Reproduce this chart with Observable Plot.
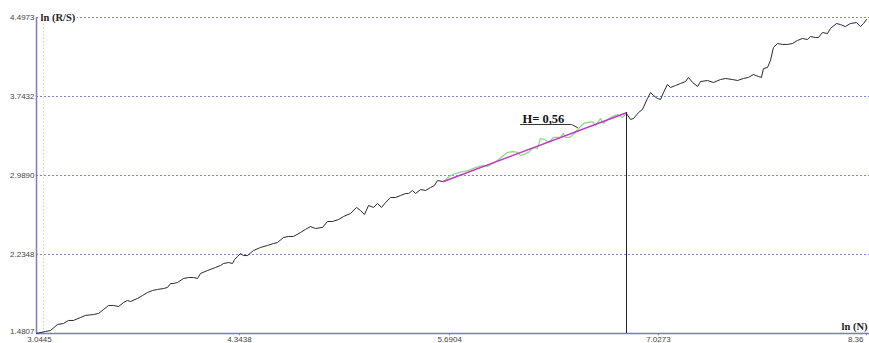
<!DOCTYPE html>
<html>
<head>
<meta charset="utf-8">
<script src="https://cdn.jsdelivr.net/npm/d3@7"></script>
<script src="https://cdn.jsdelivr.net/npm/@observablehq/plot@0.6"></script>
<style>
  html, body { margin: 0; padding: 0; background: #fff; overflow: hidden; }
  #chart svg { display: block; overflow: visible; }
</style>
</head>
<body>
<div id="chart"></div>
<script>
// Rescaled range analysis: ln(R/S) against ln(N)
const lnN = [
  3.0445, 3.102, 3.134, 3.179, 3.217, 3.249, 3.281, 3.326, 3.358, 3.410,
  3.442, 3.474, 3.506, 3.538, 3.570, 3.602, 3.627, 3.647, 3.691, 3.723,
  3.755, 3.787, 3.819, 3.858, 3.883, 3.903, 3.922, 3.948, 3.986, 4.018,
  4.050, 4.076, 4.095, 4.140, 4.191, 4.223, 4.242, 4.274, 4.300, 4.313,
  4.332, 4.351, 4.370, 4.396, 4.434, 4.479, 4.524, 4.562, 4.588, 4.626,
  4.658, 4.690, 4.735, 4.767, 4.799, 4.831, 4.876, 4.908, 4.940, 4.979,
  5.011, 5.055, 5.094, 5.119, 5.145, 5.171, 5.203, 5.228, 5.254, 5.280,
  5.312, 5.344, 5.376, 5.408, 5.427, 5.452, 5.472, 5.504, 5.536, 5.568,
  5.593, 5.613, 5.645, 5.651,
  5.696, 5.728, 5.773, 5.811, 5.856, 5.901, 5.933, 5.965, 5.997, 6.035,
  6.061, 6.099, 6.125, 6.144, 6.163, 6.195, 6.227, 6.253, 6.272, 6.298,
  6.323, 6.355, 6.400, 6.419, 6.432, 6.458, 6.490, 6.516, 6.548, 6.573,
  6.605, 6.624, 6.656, 6.676, 6.701, 6.733, 6.765, 6.797, 6.823,
  6.849, 6.868, 6.900, 6.925, 6.957, 6.977, 6.996, 7.021, 7.041, 7.060,
  7.085, 7.105, 7.137, 7.169, 7.201, 7.220, 7.246, 7.278, 7.297, 7.342,
  7.380, 7.425, 7.457, 7.502, 7.534, 7.572, 7.604, 7.636, 7.668, 7.687,
  7.700, 7.726, 7.745, 7.764, 7.790, 7.822, 7.854, 7.886, 7.918, 7.950,
  7.982, 8.001, 8.033, 8.052, 8.078, 8.110, 8.129, 8.168, 8.193, 8.225,
  8.257, 8.296, 8.321, 8.341, 8.360
];
const lnRS = [
  1.481, 1.500, 1.509, 1.567, 1.576, 1.605, 1.605, 1.633, 1.653, 1.662,
  1.672, 1.710, 1.748, 1.748, 1.738, 1.777, 1.796, 1.786, 1.815, 1.843,
  1.872, 1.891, 1.901, 1.910, 1.920, 1.958, 1.958, 1.968, 2.006, 2.015,
  2.015, 2.006, 2.054, 2.082, 2.111, 2.130, 2.149, 2.158, 2.149, 2.187,
  2.216, 2.244, 2.225, 2.225, 2.273, 2.302, 2.321, 2.340, 2.349, 2.397,
  2.407, 2.407, 2.445, 2.474, 2.502, 2.483, 2.493, 2.550, 2.550, 2.569,
  2.598, 2.626, 2.684, 2.655, 2.617, 2.703, 2.684, 2.722, 2.684, 2.731,
  2.779, 2.779, 2.798, 2.817, 2.817, 2.846, 2.817, 2.855, 2.846, 2.874,
  2.894, 2.941, 2.932, 2.932,
  2.989, 3.008, 3.027, 3.037, 3.065, 3.084, 3.075, 3.104, 3.132, 3.180,
  3.209, 3.218, 3.209, 3.180, 3.189, 3.209, 3.256, 3.247, 3.342, 3.333,
  3.304, 3.352, 3.352, 3.390, 3.352, 3.352, 3.390, 3.438, 3.485, 3.495,
  3.504, 3.466, 3.533, 3.485, 3.524, 3.552, 3.571, 3.543, 3.581,
  3.524, 3.533, 3.590, 3.619, 3.724, 3.781, 3.753, 3.724, 3.715, 3.781,
  3.858, 3.829, 3.848, 3.867, 3.886, 3.925, 3.877, 3.839, 3.886, 3.896,
  3.877, 3.905, 3.915, 3.905, 3.896, 3.915, 3.925, 3.953, 3.934, 3.925,
  4.010, 4.020, 4.087, 4.211, 4.249, 4.240, 4.240, 4.249, 4.278, 4.297,
  4.287, 4.316, 4.306, 4.306, 4.354, 4.344, 4.392, 4.440, 4.430, 4.411,
  4.440, 4.449, 4.411, 4.440, 4.478
];

// Axis ticks
const xTicks = [3.0445, 4.3438, 5.6904, 7.0273, 8.36];
const xTickLabels = ["3.0445", "4.3438", "5.6904", "7.0273", "8.36"];
const yTicks = [1.4807, 2.2348, 2.9890, 3.7432, 4.4973];
const yTickLabels = ["1.4807", "2.2348", "2.9890", "3.7432", "4.4973"];

// Fitted Hurst segment
const H = 0.56;
const fitStart = [5.651, 2.932];   // [ln N, ln R/S] where the fit begins
const fitEndN = 6.823;
const markerN = 3.089;             // dotted reference line near the origin

// "H= 0,56" annotation with its leader
const hLabel = { n: 6.157, rs: 3.524, text: "H= 0,56" };
const leaderN = [6.144, 6.471, 6.509];
const leaderRS = [3.476, 3.476, 3.447];

const xMin = xTicks[0], xMax = xTicks[xTicks.length - 1];
const yMin = yTicks[0], yMax = yTicks[yTicks.length - 1];

const series = lnN.map((n, i) => ({n, rs: lnRS[i]}));
const fitY = n => fitStart[1] + H * (n - fitStart[0]);
const fitLine = [{n: fitStart[0], rs: fitY(fitStart[0])}, {n: fitEndN, rs: fitY(fitEndN)}];
const leader = leaderN.map((n, i) => ({n, rs: leaderRS[i]}));

const axisColor = "#7a7ac6";
const gridColor = "#8484d6";
const xRight = 8.383;
const serif = "Liberation Serif, Times New Roman, serif";

const chart = Plot.plot({
  width: 869,
  height: 343,
  marginLeft: 36,
  marginRight: 3,
  marginTop: 17,
  marginBottom: 10,
  x: {domain: [xMin, xMax], axis: null},
  y: {domain: [yMin, yMax], axis: null},
  style: {background: "#fff", fontFamily: "Liberation Sans, Arial, sans-serif"},
  marks: [
    // dotted horizontal grid
    Plot.ruleY(yTicks.slice(1), {x1: xMin, x2: xRight, stroke: gridColor, strokeWidth: 1, strokeDasharray: "2,2"}),
    // dotted reference line near the origin
    Plot.ruleX([markerN], {y1: yMin, y2: yMax, stroke: "#c4d6c4", strokeWidth: 1, strokeDasharray: "1.5,2"}),
    // axes
    Plot.ruleY([yMin], {x1: xMin, x2: xRight, stroke: axisColor, strokeWidth: 1.5}),
    Plot.ruleX([xMin], {y1: yMin, y2: yMax, stroke: axisColor, strokeWidth: 1.5}),
    Plot.ruleX(xTicks.slice(1), {y1: yMin, y2: yMin - 0.022, stroke: axisColor, strokeWidth: 1}),
    // R/S curve: black outside the fitted range, green inside it
    Plot.line(series.filter(d => d.n <= fitStart[0]), {x: "n", y: "rs", stroke: "#2a2a2a", strokeWidth: 1}),
    Plot.line(series.filter(d => d.n >= fitEndN), {x: "n", y: "rs", stroke: "#2a2a2a", strokeWidth: 1}),
    Plot.line(series.filter(d => d.n >= fitStart[0] && d.n <= fitEndN), {x: "n", y: "rs", stroke: "#8fda8a", strokeWidth: 1.3}),
    // fitted line with slope H
    Plot.line(fitLine, {x: "n", y: "rs", stroke: "#c238c4", strokeWidth: 1.6}),
    Plot.ruleX([fitEndN], {y1: yMin, y2: fitY(fitEndN), stroke: "#222", strokeWidth: 1}),
    // annotation
    Plot.line(leader, {x: "n", y: "rs", stroke: "#333", strokeWidth: 1}),
    Plot.text([hLabel], {x: "n", y: "rs", text: "text", textAnchor: "start", fontSize: 12.5, fontWeight: "bold", fontFamily: serif, fill: "#111"}),
    // tick labels
    Plot.text(yTicks.slice(1), {x: xMin, y: d => d, text: (d, i) => yTickLabels[i + 1], textAnchor: "end", dx: -2, fontSize: 8, fill: "#444"}),
    Plot.text([yMin], {x: xMin, y: d => d, text: [yTickLabels[0]], textAnchor: "end", dx: -2, dy: -2, fontSize: 8, fill: "#444"}),
    Plot.text(xTicks.slice(1, -1), {x: d => d, y: yMin, text: (d, i) => xTickLabels[i + 1], dy: 5.5, fontSize: 8, fill: "#444"}),
    Plot.text([xMin], {x: d => d, y: yMin, text: [xTickLabels[0]], textAnchor: "middle", dx: 3, dy: 5.5, fontSize: 8, fill: "#444"}),
    Plot.text([xMax], {x: d => d, y: yMin, text: [xTickLabels[xTickLabels.length - 1]], textAnchor: "end", dx: -3, dy: 5.5, fontSize: 8, fill: "#444"}),
    // axis titles
    Plot.text(["ln (R/S)"], {x: xMin, y: yMax, text: d => d, textAnchor: "start", dx: 4, fontSize: 10.5, fontWeight: "bold", fontFamily: serif, fill: "#222", stroke: "#fff", strokeWidth: 4, paintOrder: "stroke"}),
    Plot.text(["ln (N)"], {x: xMax, y: yMin, text: d => d, textAnchor: "end", dx: 1, dy: -7, fontSize: 10.5, fontWeight: "bold", fontFamily: serif, fill: "#222"})
  ]
});

document.getElementById("chart").appendChild(chart);
</script>
</body>
</html>
